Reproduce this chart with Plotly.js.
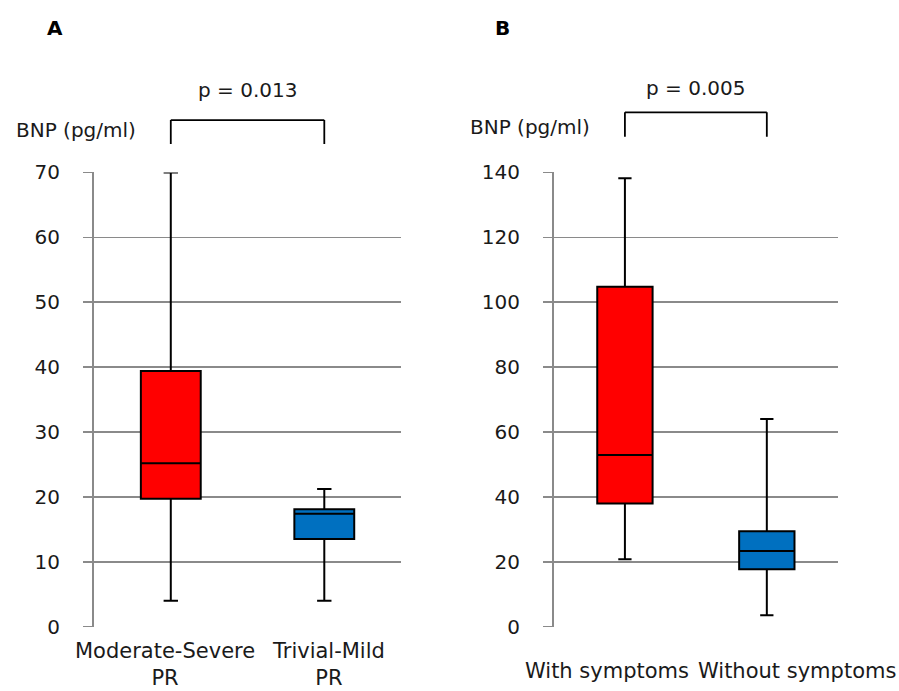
<!DOCTYPE html>
<html>
<head>
<meta charset="utf-8">
<script src="https://cdn.plot.ly/plotly-3.0.1.min.js"></script>
<style>html,body{margin:0;padding:0;background:#fff;}</style>
</head>
<body>
<div id="chart" style="width:899px;height:691px;"></div>
<script>
// Panel A data
const catsA = ['Moderate-Severe PR', 'Trivial-Mild PR'];
const labelsA = ['Moderate-Severe<br>PR', 'Trivial-Mild<br>PR'];
const lowA = [4.0, 4.0];
const q1A = [19.7, 13.5];
const medA = [25.2, 17.4];
const q3A = [39.4, 18.1];
const highA = [70, 21.2];
const pTextA = 'p = 0.013';

// Panel B data
const catsB = ['With symptoms', 'Without symptoms'];
const labelsB = ['With symptoms', 'Without symptoms'];
const lowB = [20.8, 3.5];
const q1B = [38.0, 17.7];
const medB = [52.9, 23.3];
const q3B = [104.8, 29.4];
const highB = [138.2, 64.0];
const pTextB = 'p = 0.005';

const boxColors = ['#ff0000', '#0070c0'];
const yTitle = 'BNP (pg/ml)';

const FONT = 'DejaVu Sans, Arial, sans-serif';
const GRID = '#8a8a8a';

const traces = [];
function addBoxes(cats, low, q1, med, q3, high, xa, ya) {
  cats.forEach((c, i) => {
    traces.push({
      type: 'box', x: [c], lowerfence: [low[i]], q1: [q1[i]], median: [med[i]],
      q3: [q3[i]], upperfence: [high[i]], xaxis: xa, yaxis: ya,
      fillcolor: boxColors[i], line: {color: '#000', width: 2},
      width: 0.39, whiskerwidth: 0.24, boxpoints: false, hoverinfo: 'skip',
      showlegend: false
    });
  });
}
addBoxes(catsA, lowA, q1A, medA, q3A, highA, 'x', 'y');
addBoxes(catsB, lowB, q1B, medB, q3B, highB, 'x2', 'y2');

const yDom = [0.0931, 0.7504];
const xBase = {type: 'category', range: [-0.5, 1.5], showgrid: false, showline: false,
  zeroline: false, showticklabels: false, ticks: '', fixedrange: true};
const yBase = {showline: true, linecolor: GRID, linewidth: 2, ticks: 'outside', ticklen: 9,
  tickcolor: GRID, tickwidth: 1.5, showgrid: true, gridcolor: GRID, gridwidth: 1.5,
  zeroline: false, ticklabelstandoff: 19, tickfont: {family: FONT, size: 20, color: '#1a1a1a'},
  domain: yDom, fixedrange: true};

const ann = [];
const tf = {family: FONT, size: 20, color: '#1a1a1a'};
// x category labels
const shiftA = [-6, 4];
catsA.forEach((c, i) => ann.push({xref: 'x', yref: 'paper', x: c, y: 0.039, xshift: shiftA[i],
  text: labelsA[i], showarrow: false, font: {family: FONT, size: 21, color: '#1a1a1a'}, yanchor: 'middle'}));
const shiftB = [-18, 30];
catsB.forEach((c, i) => ann.push({xref: 'x2', yref: 'paper', x: c, y: 0.029, xshift: shiftB[i],
  text: labelsB[i], showarrow: false, font: {family: FONT, size: 21, color: '#1a1a1a'}, yanchor: 'middle'}));
// y titles
ann.push({xref: 'paper', yref: 'paper', x: 0.0156, y: 0.8119, xanchor: 'left', yanchor: 'middle',
  text: yTitle, showarrow: false, font: tf});
ann.push({xref: 'paper', yref: 'paper', x: 0.5206, y: 0.8162, xanchor: 'left', yanchor: 'middle',
  text: yTitle, showarrow: false, font: tf});
// p-values
ann.push({xref: 'x', yref: 'paper', x: 0.5, y: 0.8697, yanchor: 'middle', text: pTextA,
  showarrow: false, font: tf});
ann.push({xref: 'x2', yref: 'paper', x: 0.5, y: 0.8726, yanchor: 'middle', text: pTextB,
  showarrow: false, font: tf});
// panel letters
ann.push({xref: 'paper', yref: 'paper', x: 0.0495, y: 0.9595, yanchor: 'middle', text: '<b>A</b>',
  showarrow: false, font: {family: FONT, size: 20, color: '#000'}});
ann.push({xref: 'paper', yref: 'paper', x: 0.5584, y: 0.9595, yanchor: 'middle', text: '<b>B</b>',
  showarrow: false, font: {family: FONT, size: 20, color: '#000'}});

const BL = {color: '#000', width: 1.8};
const shapes = [
  {type: 'line', xref: 'x', yref: 'paper', x0: 0, x1: 0, y0: 0.7916, y1: 0.8263, line: BL},
  {type: 'line', xref: 'x', yref: 'paper', x0: 0, x1: 1, y0: 0.8263, y1: 0.8263, line: BL},
  {type: 'line', xref: 'x', yref: 'paper', x0: 1, x1: 1, y0: 0.7916, y1: 0.8263, line: BL},
  {type: 'line', xref: 'x2', yref: 'paper', x0: 0, x1: 0, y0: 0.8022, y1: 0.8375, line: BL},
  {type: 'line', xref: 'x2', yref: 'paper', x0: 0, x1: 1, y0: 0.8375, y1: 0.8375, line: BL},
  {type: 'line', xref: 'x2', yref: 'paper', x0: 1, x1: 1, y0: 0.8022, y1: 0.8375, line: BL}
];

const layout = {
  width: 899, height: 691, margin: {l: 0, r: 0, t: 0, b: 0},
  paper_bgcolor: '#fff', plot_bgcolor: '#fff', showlegend: false,
  font: {family: FONT, color: '#1a1a1a'},
  xaxis: Object.assign({}, xBase, {domain: [0.1046, 0.4461], anchor: 'y'}),
  xaxis2: Object.assign({}, xBase, {domain: [0.6162, 0.9319], anchor: 'y2'}),
  yaxis: Object.assign({}, yBase, {range: [0, 70], dtick: 10, tick0: 0, anchor: 'x'}),
  yaxis2: Object.assign({}, yBase, {range: [0, 140], dtick: 20, tick0: 0, anchor: 'x2'}),
  annotations: ann, shapes: shapes
};

Plotly.newPlot('chart', traces, layout, {displayModeBar: false, staticPlot: true});
</script>
</body>
</html>
